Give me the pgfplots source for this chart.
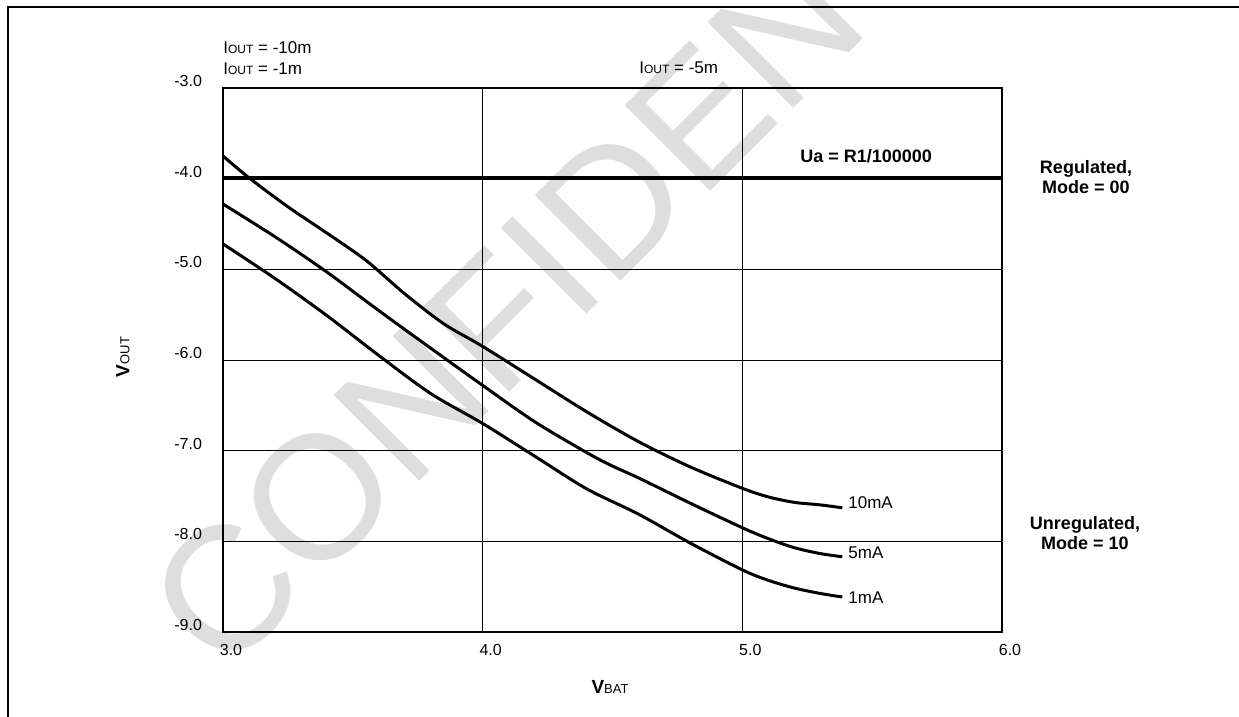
\documentclass[border=0pt]{standalone}
\usepackage{fontspec}
\setmainfont{Liberation Sans}
\usepackage{pgfplots}
\pgfplotsset{compat=1.18}
\begin{document}
\begin{tikzpicture}[x=1pt,y=1pt]
\useasboundingbox (0,0) rectangle (619.5,-358.5);
\draw[line width=0.6pt] (4,-360) -- (4,-3.5) -- (622,-3.5);
\begin{axis}[
  at={(111.5pt,-316pt)}, anchor=south west,
  scale only axis, width=389.5pt, height=272pt,
  xmin=3, xmax=6, ymin=-9, ymax=-3,
  xtick={3,4,5,6}, xticklabels={3.0,4.0,5.0,6.0},
  ytick={-9,-8,-7,-6,-5,-4,-3}, yticklabels={-9.0,-8.0,-7.0,-6.0,-5.0,-4.0,-3.0},
  grid=major, major grid style={black, line width=0.5pt},
  axis line style={line width=0.6pt},
  major tick length=0pt,
  ticklabel style={font=\fontsize{8}{9.6}\selectfont},
  xticklabel style={yshift=-2.5pt, xshift=4pt},
  yticklabel style={xshift=-7pt, yshift=3.5pt},
]
\addplot[black, line width=2pt] coordinates {(3,-3.99) (6,-3.99)};
% 10mA
\addplot[black, line width=1.5pt, smooth, tension=0.5] coordinates {
(3.0,-3.75) (3.1,-3.99) (3.25,-4.31) (3.4,-4.60) (3.55,-4.90) (3.7,-5.27)
(3.85,-5.60) (4.0,-5.85) (4.2,-6.21) (4.4,-6.57) (4.6,-6.90) (4.8,-7.18)
(5.0,-7.415) (5.1,-7.51) (5.2,-7.57) (5.3,-7.598) (5.385,-7.63)};
% 5mA
\addplot[black, line width=1.5pt, smooth, tension=0.5] coordinates {
(3.0,-4.28) (3.2,-4.64) (3.4,-5.03) (3.6,-5.455) (3.8,-5.87) (4.0,-6.28)
(4.2,-6.68) (4.4,-7.02) (4.5,-7.17) (4.6,-7.30) (4.8,-7.58) (5.0,-7.85)
(5.1,-7.97) (5.2,-8.07) (5.3,-8.135) (5.385,-8.17)};
% 1mA
\addplot[black, line width=1.5pt, smooth, tension=0.5] coordinates {
(3.0,-4.72) (3.2,-5.10) (3.4,-5.51) (3.6,-5.95) (3.8,-6.37) (4.0,-6.70)
(4.2,-7.06) (4.4,-7.42) (4.6,-7.70) (4.8,-8.02) (5.0,-8.315) (5.1,-8.43)
(5.2,-8.515) (5.3,-8.575) (5.385,-8.614)};
\end{axis}
% annotations
\node[anchor=west, inner sep=0pt, font=\fontsize{8.5}{10}\selectfont] at (111.5,-24) {I{\fontsize{6}{7}\selectfont OUT} = -10m};
\node[anchor=west, inner sep=0pt, font=\fontsize{8.5}{10}\selectfont] at (111.5,-34.5) {I{\fontsize{6}{7}\selectfont OUT} = -1m};
\node[anchor=west, inner sep=0pt, font=\fontsize{8.5}{10}\selectfont] at (319.5,-34) {I{\fontsize{6}{7}\selectfont OUT} = -5m};
\node[anchor=west, inner sep=0pt, font=\bfseries\fontsize{9}{10.5}\selectfont] at (400,-78) {Ua = R1/100000};
\node[align=center, inner sep=0pt, font=\bfseries\fontsize{9}{10}\selectfont] at (543,-88.5) {Regulated,\\Mode = 00};
\node[align=center, inner sep=0pt, font=\bfseries\fontsize{9}{10}\selectfont] at (542.5,-266.5) {Unregulated,\\Mode = 10};
\node[anchor=west, inner sep=0pt, font=\fontsize{8.5}{10}\selectfont] at (424,-251.5) {10mA};
\node[anchor=west, inner sep=0pt, font=\fontsize{8.5}{10}\selectfont] at (424,-276.5) {5mA};
\node[anchor=west, inner sep=0pt, font=\fontsize{8.5}{10}\selectfont] at (424,-299) {1mA};
\node[rotate=90, inner sep=0pt] at (61.5,-178.5) {{\bfseries\fontsize{9.5}{11}\selectfont V}{\fontsize{6.5}{8}\selectfont OUT}};
\node[inner sep=0pt] at (305,-343.5) {{\bfseries\fontsize{9.5}{11}\selectfont V}{\fontsize{6.5}{8}\selectfont BAT}};
% watermark
\node[rotate=45, anchor=west, inner sep=0pt, text=black, opacity=0.13, font=\fontsize{88}{88}\selectfont] at (90,-318) {CONFIDENTIAL};
\end{tikzpicture}
\end{document}
